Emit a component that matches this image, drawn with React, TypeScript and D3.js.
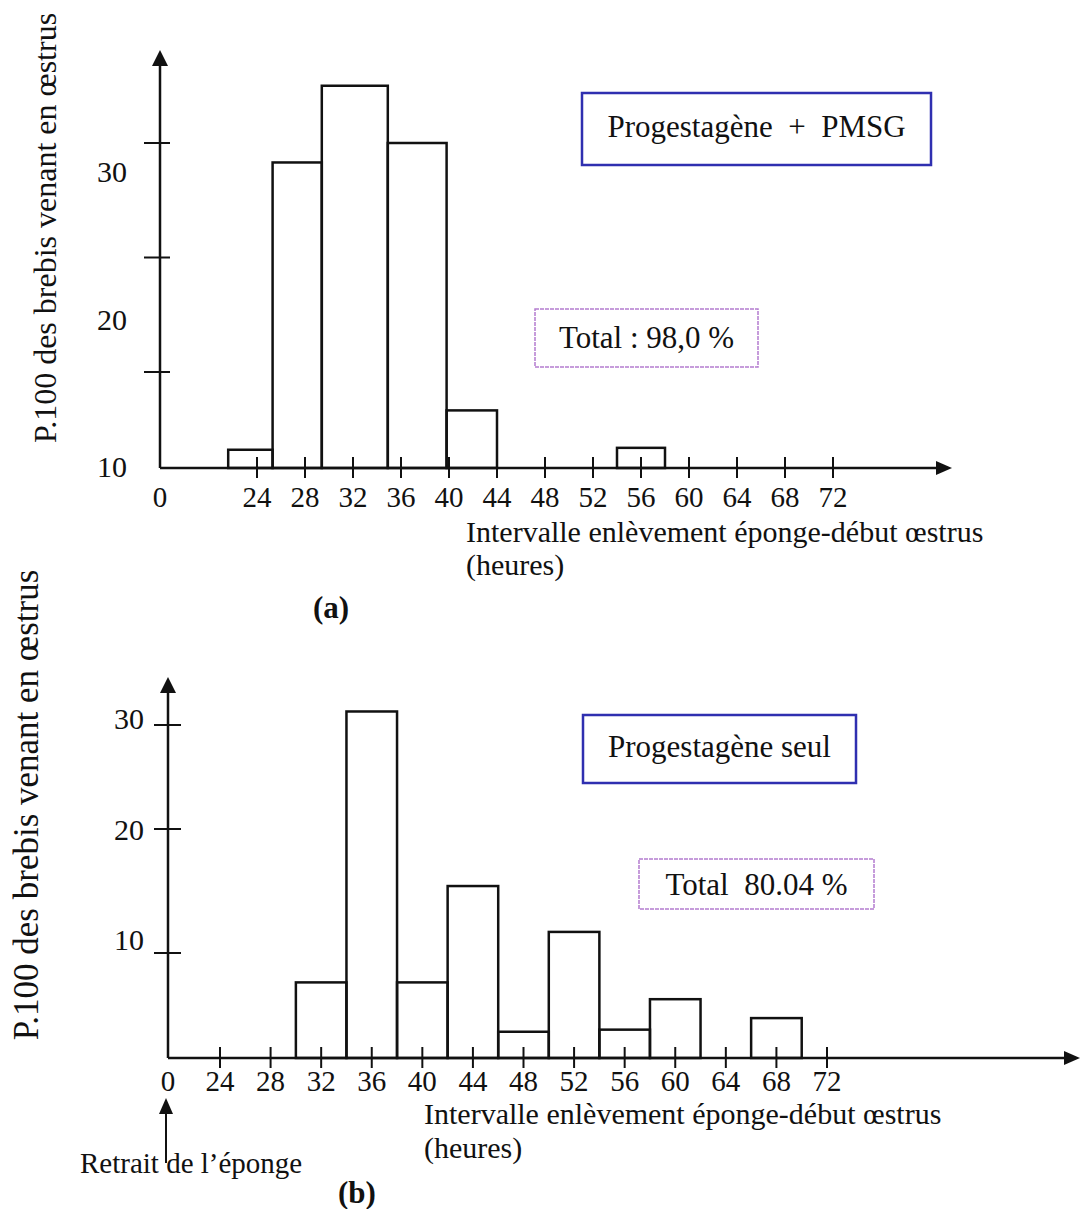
import React, { useEffect, useRef } from "react";
import * as d3 from "d3";

const FONT = "'Liberation Serif', 'Times New Roman', serif";

const hourTicks = [24, 28, 32, 36, 40, 44, 48, 52, 56, 60, 64, 68, 72];
const pctTicks = [10, 20, 30];

// (a) progestagene + PMSG
const startA = [21.6, 25.3, 29.4, 34.9, 39.8, 54];
const endA = [25.3, 29.4, 34.9, 39.8, 44, 58];
const pctA = [1.9, 28.3, 35, 30, 6, 2.1];

// (b) progestagene seul
const startB = [30, 34, 38, 42, 46, 50, 54, 58, 66];
const endB = [34, 38, 42, 46, 50, 54, 58, 62, 70];
const pctB = [7.2, 31.3, 7.2, 15.4, 2.5, 11.7, 2.7, 5.6, 3.8];

const yTitle = "P.100 des brebis venant en \u0153strus";
const xTitle = "Intervalle enl\u00e8vement \u00e9ponge-d\u00e9but \u0153strus";

const drawPanel = (svg, p) => {
  const g = svg.append("g");
  const base = p.y(0);

  // histogram bars
  g.selectAll("rect.bar")
    .data(p.pct)
    .enter()
    .append("rect")
    .attr("class", "bar")
    .attr("x", (d, i) => p.x(p.start[i]))
    .attr("y", d => p.y(d))
    .attr("width", (d, i) => p.x(p.end[i]) - p.x(p.start[i]))
    .attr("height", d => base - p.y(d))
    .attr("fill", "none")
    .attr("stroke", "#111")
    .attr("stroke-width", 2.5);

  // axes
  g.append("line")
    .attr("x1", p.ox).attr("x2", p.ox)
    .attr("y1", base).attr("y2", p.yTop + 10)
    .attr("stroke", "#111").attr("stroke-width", 2.5);
  g.append("path")
    .attr("d", `M${p.ox},${p.yTop} L${p.ox - 8},${p.yTop + 16} L${p.ox + 8},${p.yTop + 16} Z`)
    .attr("fill", "#111");
  g.append("line")
    .attr("x1", p.ox).attr("x2", p.xRight - 10)
    .attr("y1", base).attr("y2", base)
    .attr("stroke", "#111").attr("stroke-width", 2.5);
  g.append("path")
    .attr("d", `M${p.xRight},${base} L${p.xRight - 16},${base - 7} L${p.xRight - 16},${base + 7} Z`)
    .attr("fill", "#111");

  // x ticks
  g.selectAll("line.xt")
    .data(hourTicks)
    .enter()
    .append("line")
    .attr("x1", d => p.x(d)).attr("x2", d => p.x(d))
    .attr("y1", base - 11).attr("y2", base + 10)
    .attr("stroke", "#111").attr("stroke-width", 2);
  g.selectAll("text.xt")
    .data([0].concat(hourTicks))
    .enter()
    .append("text")
    .attr("x", d => (d === 0 ? p.ox : p.x(d)))
    .attr("y", p.tickLabY)
    .attr("text-anchor", "middle")
    .style("font-size", "29px")
    .text(d => d);

  // y ticks (labels sit apart from the marks in the original)
  g.selectAll("line.yt")
    .data(pctTicks)
    .enter()
    .append("line")
    .attr("x1", p.ox - p.tickL).attr("x2", p.ox + p.tickR)
    .attr("y1", d => p.y(d)).attr("y2", d => p.y(d))
    .attr("stroke", "#111").attr("stroke-width", 2);
  g.selectAll("text.yt")
    .data(pctTicks)
    .enter()
    .append("text")
    .attr("x", p.yLabX)
    .attr("y", d => p.yLab(d))
    .attr("text-anchor", "end")
    .style("font-size", "30px")
    .text(d => d);

  // titles
  g.append("text")
    .attr("transform", `translate(${p.yTitleX},${p.yTitleY}) rotate(-90)`)
    .attr("text-anchor", "middle")
    .style("font-size", p.yTitleSize + "px")
    .text(yTitle);
  g.append("text")
    .attr("x", p.xTitleX).attr("y", p.xTitleY)
    .style("font-size", "30px")
    .text(xTitle);
  g.append("text")
    .attr("x", p.xTitleX).attr("y", p.xTitleY + p.xTitleGap)
    .style("font-size", "30px")
    .text("(heures)");
  g.append("text")
    .attr("x", p.tagX).attr("y", p.tagY)
    .attr("text-anchor", "middle")
    .style("font-size", "31px")
    .style("font-weight", "bold")
    .text(p.tag);

  // boxes
  const boxes = [p.legend, p.total];
  boxes.forEach(b => {
    g.append("rect")
      .attr("x", b.x).attr("y", b.y)
      .attr("width", b.w).attr("height", b.h)
      .attr("fill", "white")
      .attr("stroke", b.color)
      .attr("stroke-width", b.sw)
      .attr("stroke-dasharray", b.dash || null);
    g.append("text")
      .attr("x", b.x + b.w / 2).attr("y", b.ty)
      .attr("text-anchor", "middle")
      .style("font-size", "31px")
      .style("white-space", "pre")
      .text(b.text);
  });
};

const App = () => {
  const ref = useRef(null);

  useEffect(() => {
    const svg = d3.select(ref.current);
    svg.selectAll("*").remove();

    drawPanel(svg, {
      start: startA, end: endA, pct: pctA,
      x: d3.scaleLinear().domain([24, 72]).range([257, 833]),
      y: d3.scaleLinear().domain([0, 10, 30]).range([468, 372, 143]),
      yLab: d3.scaleLinear().domain([10, 30]).range([477, 182]),
      ox: 160, yTop: 50, xRight: 952,
      tickL: 16, tickR: 10, yLabX: 127,
      tickLabY: 507,
      yTitleX: 56, yTitleY: 228, yTitleSize: 32,
      xTitleX: 466, xTitleY: 542, xTitleGap: 33,
      tag: "(a)", tagX: 331, tagY: 618,
      legend: { x: 582, y: 93, w: 349, h: 72, color: "#2f2fb0", sw: 2.5, ty: 137, text: "Progestag\u00e8ne  +  PMSG" },
      total: { x: 535, y: 309, w: 223, h: 58, color: "#b47cd0", sw: 1.5, dash: "4,1", ty: 348, text: "Total : 98,0 %" }
    });

    drawPanel(svg, {
      start: startB, end: endB, pct: pctB,
      x: d3.scaleLinear().domain([24, 72]).range([220, 827]),
      y: d3.scaleLinear().domain([0, 10, 20, 30]).range([1058, 953, 829, 725]),
      yLab: d3.scaleLinear().domain([10, 30]).range([950, 729]),
      ox: 168, yTop: 677, xRight: 1080,
      tickL: 14, tickR: 13, yLabX: 144,
      tickLabY: 1091,
      yTitleX: 38, yTitleY: 805, yTitleSize: 35,
      xTitleX: 424, xTitleY: 1124, xTitleGap: 34,
      tag: "(b)", tagX: 357, tagY: 1203,
      legend: { x: 583, y: 715, w: 273, h: 68, color: "#2f2fb0", sw: 2.5, ty: 757, text: "Progestag\u00e8ne seul" },
      total: { x: 639, y: 859, w: 235, h: 50, color: "#b47cd0", sw: 1.5, dash: "4,1", ty: 895, text: "Total  80.04 %" }
    });

    // removal of the sponge marker under the origin of (b)
    svg.append("line")
      .attr("x1", 166).attr("x2", 166)
      .attr("y1", 1110).attr("y2", 1163)
      .attr("stroke", "#111").attr("stroke-width", 2);
    svg.append("path")
      .attr("d", "M166,1098 L159,1114 L173,1114 Z")
      .attr("fill", "#111");
    svg.append("text")
      .attr("x", 80).attr("y", 1173)
      .style("font-size", "29px")
      .text("Retrait de l\u2019\u00e9ponge");
  }, []);

  return (
    <svg
      ref={ref}
      width={1090}
      height={1209}
      style={{ position: "absolute", left: 0, top: 0, background: "white", fontFamily: FONT, fill: "#111" }}
    />
  );
};

export default App;
